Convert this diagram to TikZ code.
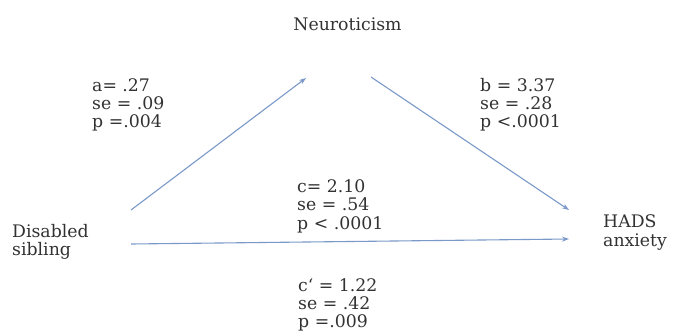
\documentclass[tikz,border=0pt]{standalone}
\usepackage{fontspec}
\setmainfont{DejaVu Serif}
\usetikzlibrary{arrows.meta}
\definecolor{arrowcol}{RGB}{122,152,200}
\definecolor{txtcol}{RGB}{50,50,50}
\tikzset{
  lbl/.style={inner sep=0pt, text=txtcol, align=left, font=\fontsize{17.3}{18.2}\selectfont},
  conn/.style={draw=arrowcol, line width=1.1pt, -{Stealth[length=7pt,width=5pt]}}
}
\begin{document}
\begin{tikzpicture}[x=1pt,y=-1pt]
\useasboundingbox (0,0) rectangle (674,332);
% base anchor of a multi-line node = baseline of its last line
\node[lbl, anchor=base] (neu) at (347.5,30) {Neuroticism};
\node[lbl, anchor=base west] (ds) at (12,255.5) {Disabled\\sibling};
\node[lbl, anchor=base west] (hads) at (603,246) {HADS\\anxiety};
\node[lbl, anchor=base west] (la) at (92,127.5) {a= .27\\se = .09\\p =.004};
\node[lbl, anchor=base west] (lb) at (480,127.5) {b = 3.37\\se = .28\\p <.0001};
\node[lbl, anchor=base west] (lc) at (297,229) {c= 2.10\\se = .54\\p < .0001};
\node[lbl, anchor=base west] (lcp) at (298,327.5) {c‘ = 1.22\\se = .42\\p =.009};
\coordinate (aS) at (131,210);
\coordinate (aE) at (306,78);
\coordinate (bS) at (371,77);
\coordinate (bE) at (569,210);
\coordinate (cS) at (131,244);
\coordinate (cE) at (569,239);
\draw[conn] (aS) -- (aE);
\draw[conn] (bS) -- (bE);
\draw[conn] (cS) -- (cE);
\end{tikzpicture}
\end{document}
